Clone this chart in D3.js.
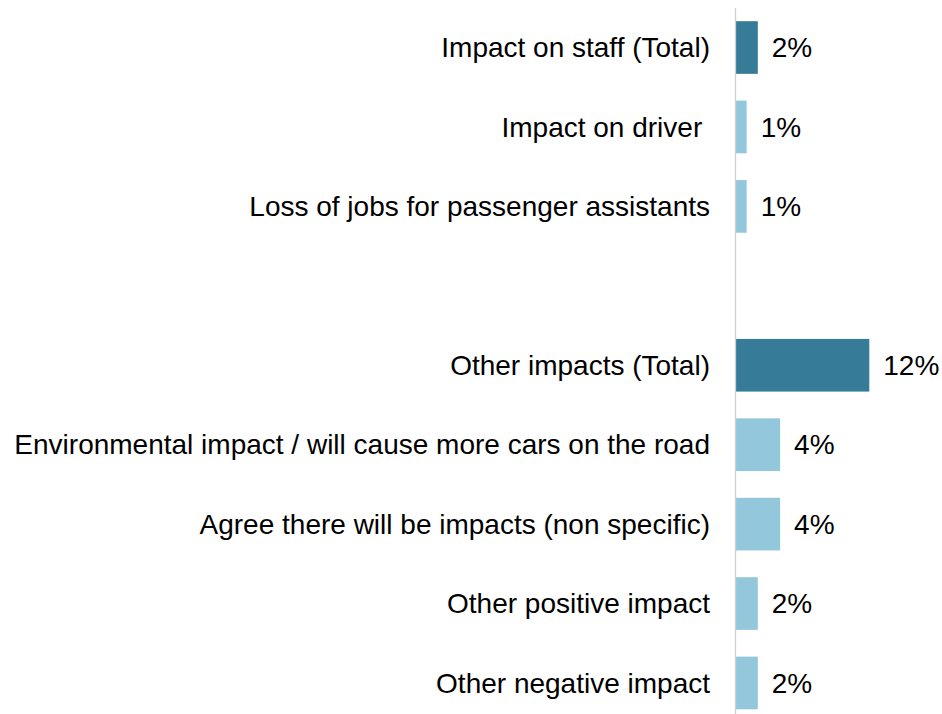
<!DOCTYPE html>
<html><head><meta charset="utf-8">
<script src="https://cdn.jsdelivr.net/npm/d3@7"></script>
<style>body{margin:0;background:#fff;} text{font-family:"Liberation Sans",Arial,sans-serif;}</style>
</head><body>
<svg id="chart" width="942" height="714"></svg>
<script>
const categories = ["Impact on staff (Total)", "Impact on driver ", "Loss of jobs for passenger assistants", "", "Other impacts (Total)", "Environmental impact / will cause more cars on the road", "Agree there will be impacts (non specific)", "Other positive impact", "Other negative impact"];
const values = [2, 1, 1, null, 12, 4, 4, 2, 2];
const isTotal = [true, false, false, false, true, false, false, false, false];
const labels = ["2%", "1%", "1%", "", "12%", "4%", "4%", "2%", "2%"];

const svg = d3.select("#chart");
const keys = categories.map((c, i) => i);
const y = d3.scaleBand().domain(keys).range([7.8, 722.7]).paddingInner(0.337).paddingOuter(0.1685);
const x = d3.scaleLinear().domain([0, 12]).range([735.5, 869.3]);

const data = categories.map((c, i) => ({c, v: values[i], t: isTotal[i], l: labels[i], i}));

svg.selectAll("rect.bar").data(data.filter(d => d.v != null)).join("rect")
  .attr("class", "bar")
  .attr("x", x(0))
  .attr("y", d => y(d.i))
  .attr("width", d => x(d.v) - x(0))
  .attr("height", y.bandwidth())
  .attr("fill", d => d.t ? "#367C98" : "#93C7DB");

svg.append("line").attr("x1", x(0)).attr("x2", x(0)).attr("y1", 8).attr("y2", 714)
  .attr("stroke", "#d0d0d0").attr("stroke-width", 1.3);

svg.selectAll("text.cat").data(data).join("text")
  .attr("class", "cat")
  .attr("x", 710)
  .attr("y", d => y(d.i) + y.bandwidth() / 2)
  .attr("dy", "0.35em")
  .attr("text-anchor", "end")
  .attr("font-size", 28)
  .attr("fill", "#000")
  .style("white-space", "pre")
  .text(d => d.c);

svg.selectAll("text.val").data(data.filter(d => d.v != null)).join("text")
  .attr("class", "val")
  .attr("x", d => x(d.v) + 14)
  .attr("y", d => y(d.i) + y.bandwidth() / 2)
  .attr("dy", "0.35em")
  .attr("font-size", 28)
  .attr("fill", "#000")
  .text(d => d.l);
</script>
</body></html>
